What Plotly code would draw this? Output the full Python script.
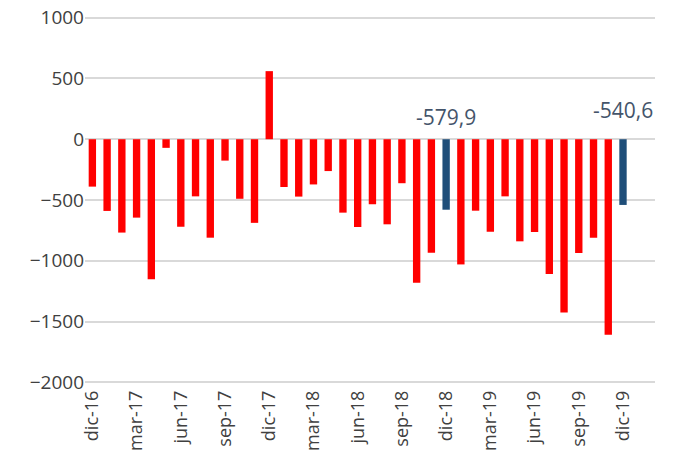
import plotly.graph_objects as go

months = ["dic-16","ene-17","feb-17","mar-17","abr-17","may-17","jun-17","jul-17","ago-17","sep-17","oct-17","nov-17",
          "dic-17","ene-18","feb-18","mar-18","abr-18","may-18","jun-18","jul-18","ago-18","sep-18","oct-18","nov-18",
          "dic-18","ene-19","feb-19","mar-19","abr-19","may-19","jun-19","jul-19","ago-19","sep-19","oct-19","nov-19","dic-19"]
values = [-390, -590, -768, -645, -1152, -71, -720, -470, -810, -176, -490, -688,
          560, -393, -472, -372, -262, -604, -722, -535, -700, -362, -1181, -933,
          -579.9, -1030, -588, -761, -470, -840, -763, -1109, -1425, -936, -811, -1609, -540.6]
highlight = ["dic-18", "dic-19"]
tick_labels = months[::3]
y_ticks = [-2000, -1500, -1000, -500, 0, 500, 1000]

colors = ["#1F4E79" if m in highlight else "#FF0000" for m in months]

fig = go.Figure(go.Bar(x=months, y=values, marker=dict(color=colors, line=dict(width=0)), width=0.5))

for m in highlight:
    v = values[months.index(m)]
    fig.add_annotation(x=m, y=0, text=f"{v:.1f}".replace(".", ","), showarrow=False,
                       yanchor="bottom", yshift=6 if m == "dic-18" else 13,
                       font=dict(family="Open Sans", size=21, color="#44546A"))

fig.update_layout(
    width=685, height=468,
    margin=dict(l=85, r=30, t=14, b=82),
    plot_bgcolor="white", paper_bgcolor="white",
    showlegend=False,
    font=dict(family="Open Sans", size=17, color="#404040"),
)
fig.update_xaxes(type="category", tickmode="array", tickvals=tick_labels, ticktext=tick_labels,
                 tickangle=-90, showgrid=False, showline=False, ticks="", ticklen=0, automargin=False,
                 ticklabeloverflow="allow", tickfont=dict(size=18, color="#404040"))
fig.update_yaxes(range=[-2030, 1030], tickmode="array", tickvals=y_ticks,
                 showgrid=True, gridcolor="#D9D9D9", gridwidth=1.5,
                 zeroline=True, zerolinecolor="#D9D9D9", zerolinewidth=1.5, showline=False, ticks="",
                 automargin=False, ticklabeloverflow="allow", tickfont=dict(size=19, color="#404040"))

fig.write_html("out.html", config={"displayModeBar": False},
               post_script="document.body.style.margin='0';")
